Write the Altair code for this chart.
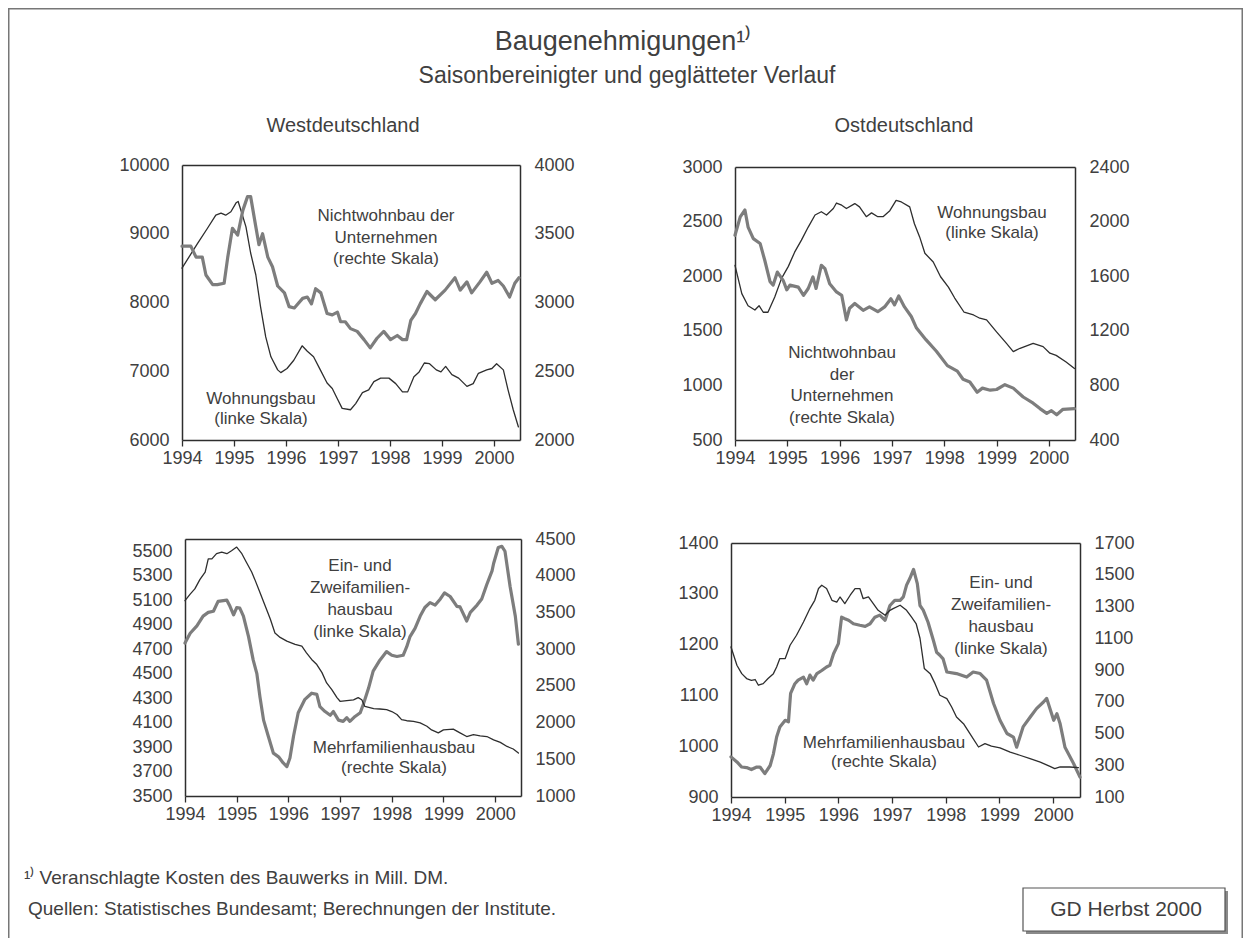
import altair as alt
import pandas as pd

# ---------------------------------------------------------------- data
YEARS = [1994, 1995, 1996, 1997, 1998, 1999, 2000]
X_DOMAIN = [1994, 2000.5]

# Westdeutschland, oben: Wohnungsbau (linke Skala) / Nichtwohnbau der Unternehmen (rechte Skala)
WEST_WOHNUNGSBAU = [
    (1994.00, 8500), (1994.30, 8860), (1994.49, 9080), (1994.65, 9270), (1994.75, 9300),
    (1994.84, 9270), (1994.94, 9320), (1995.04, 9450), (1995.08, 9470), (1995.13, 9350),
    (1995.23, 9100), (1995.32, 8720), (1995.42, 8400), (1995.51, 7940), (1995.61, 7500),
    (1995.71, 7210), (1995.84, 7020), (1995.90, 6980), (1996.02, 7040), (1996.15, 7160),
    (1996.31, 7370), (1996.41, 7290), (1996.53, 7210), (1996.66, 7020), (1996.79, 6830),
    (1996.89, 6750), (1996.98, 6610), (1997.08, 6460), (1997.24, 6440), (1997.34, 6530),
    (1997.47, 6690), (1997.59, 6730), (1997.69, 6850), (1997.82, 6900), (1997.98, 6900),
    (1998.11, 6820), (1998.24, 6700), (1998.34, 6700), (1998.46, 6920), (1998.56, 6990),
    (1998.66, 7120), (1998.76, 7110), (1998.89, 7020), (1998.98, 6990), (1999.07, 7070),
    (1999.19, 6950), (1999.32, 6900), (1999.48, 6780), (1999.60, 6820), (1999.70, 6970),
    (1999.86, 7020), (1999.96, 7040), (2000.05, 7110), (2000.18, 7020), (2000.27, 6730),
    (2000.37, 6440), (2000.47, 6190),
]
WEST_NICHTWOHNBAU = [
    (1994.00, 3410), (1994.17, 3410), (1994.27, 3330), (1994.39, 3330), (1994.46, 3200),
    (1994.59, 3130), (1994.68, 3130), (1994.81, 3140), (1994.88, 3330), (1994.97, 3540),
    (1995.07, 3490), (1995.17, 3670), (1995.26, 3770), (1995.32, 3770), (1995.42, 3550),
    (1995.48, 3420), (1995.55, 3500), (1995.65, 3330), (1995.74, 3260), (1995.84, 3120),
    (1995.97, 3070), (1996.06, 2970), (1996.16, 2960), (1996.32, 3030), (1996.41, 3040),
    (1996.49, 2990), (1996.57, 3100), (1996.67, 3070), (1996.79, 2920), (1996.89, 2910),
    (1996.99, 2930), (1997.05, 2860), (1997.14, 2860), (1997.24, 2810), (1997.37, 2790),
    (1997.50, 2730), (1997.62, 2670), (1997.75, 2740), (1997.88, 2790), (1998.01, 2730),
    (1998.14, 2760), (1998.24, 2730), (1998.32, 2730), (1998.40, 2870), (1998.49, 2920),
    (1998.58, 2990), (1998.71, 3080), (1998.87, 3020), (1999.06, 3090), (1999.25, 3180),
    (1999.35, 3090), (1999.48, 3150), (1999.57, 3070), (1999.73, 3150), (1999.86, 3220),
    (1999.96, 3140), (2000.08, 3160), (2000.18, 3120), (2000.30, 3040), (2000.40, 3140),
    (2000.48, 3180),
]

# Ostdeutschland, oben
OST_WOHNUNGSBAU = [
    (1994.00, 2100), (1994.13, 1840), (1994.25, 1730), (1994.38, 1690), (1994.46, 1730),
    (1994.54, 1670), (1994.63, 1670), (1994.76, 1810), (1994.89, 1980), (1995.02, 2090),
    (1995.14, 2220), (1995.27, 2330), (1995.40, 2450), (1995.53, 2560), (1995.65, 2590),
    (1995.75, 2560), (1995.88, 2620), (1995.94, 2670), (1996.04, 2650), (1996.13, 2620),
    (1996.29, 2665), (1996.38, 2635), (1996.51, 2545), (1996.61, 2580), (1996.73, 2545),
    (1996.83, 2545), (1996.96, 2600), (1997.08, 2695), (1997.18, 2680), (1997.34, 2635),
    (1997.43, 2480), (1997.53, 2360), (1997.63, 2210), (1997.79, 2130), (1997.93, 1995),
    (1998.08, 1900), (1998.20, 1800), (1998.38, 1670), (1998.56, 1645), (1998.68, 1615),
    (1998.81, 1600), (1999.00, 1490), (1999.19, 1385), (1999.32, 1310), (1999.45, 1340),
    (1999.70, 1385), (1999.89, 1355), (2000.02, 1295), (2000.14, 1275), (2000.33, 1215),
    (2000.49, 1155),
]
OST_NICHTWOHNBAU = [
    (1994.00, 1900), (1994.10, 2035), (1994.19, 2085), (1994.25, 1960), (1994.35, 1875),
    (1994.48, 1840), (1994.57, 1715), (1994.67, 1560), (1994.73, 1535), (1994.81, 1630),
    (1994.92, 1570), (1994.99, 1500), (1995.05, 1535), (1995.21, 1520), (1995.31, 1460),
    (1995.40, 1510), (1995.49, 1595), (1995.55, 1510), (1995.65, 1680), (1995.72, 1655),
    (1995.81, 1545), (1995.94, 1485), (1996.04, 1460), (1996.13, 1280), (1996.19, 1365),
    (1996.29, 1400), (1996.45, 1350), (1996.57, 1375), (1996.73, 1340), (1996.86, 1375),
    (1996.98, 1435), (1997.05, 1390), (1997.13, 1455), (1997.24, 1375), (1997.37, 1305),
    (1997.47, 1220), (1997.65, 1135), (1997.85, 1050), (1998.06, 945), (1998.25, 905),
    (1998.36, 845), (1998.49, 825), (1998.63, 750), (1998.73, 780), (1998.88, 765),
    (1999.00, 770), (1999.16, 805), (1999.32, 780), (1999.51, 715), (1999.70, 670),
    (1999.83, 630), (1999.96, 595), (2000.05, 615), (2000.15, 585), (2000.27, 625),
    (2000.49, 630),
]

# Westdeutschland, unten: Ein- und Zweifamilienhausbau (linke Skala) / Mehrfamilienhausbau (rechte Skala)
WEST_EZFH = [
    (1994.00, 4750), (1994.10, 4830), (1994.23, 4890), (1994.35, 4970), (1994.45, 5000),
    (1994.55, 5010), (1994.64, 5090), (1994.81, 5100), (1994.87, 5050), (1994.94, 4980),
    (1995.00, 5040), (1995.06, 5035), (1995.13, 4970), (1995.23, 4800), (1995.32, 4610),
    (1995.39, 4500), (1995.45, 4310), (1995.52, 4120), (1995.61, 3990), (1995.71, 3850),
    (1995.81, 3820), (1995.90, 3770), (1995.97, 3740), (1996.03, 3810), (1996.10, 3990),
    (1996.19, 4180), (1996.32, 4290), (1996.45, 4340), (1996.55, 4330), (1996.61, 4230),
    (1996.71, 4190), (1996.81, 4160), (1996.87, 4190), (1996.97, 4120), (1997.06, 4110),
    (1997.13, 4140), (1997.19, 4110), (1997.29, 4150), (1997.39, 4180), (1997.45, 4250),
    (1997.55, 4380), (1997.64, 4520), (1997.77, 4610), (1997.90, 4680), (1998.00, 4650),
    (1998.10, 4640), (1998.22, 4650), (1998.29, 4720), (1998.35, 4800), (1998.45, 4870),
    (1998.55, 4970), (1998.64, 5040), (1998.74, 5080), (1998.84, 5060), (1998.94, 5110),
    (1999.02, 5160), (1999.13, 5130), (1999.26, 5050), (1999.32, 5045), (1999.45, 4930),
    (1999.52, 5000), (1999.65, 5060), (1999.74, 5110), (1999.84, 5230), (1999.94, 5340),
    (1999.97, 5400), (2000.06, 5530), (2000.13, 5540), (2000.19, 5500), (2000.29, 5210),
    (2000.39, 4970), (2000.45, 4740),
]
WEST_MFH = [
    (1994.00, 3660), (1994.10, 3750), (1994.19, 3820), (1994.29, 3950), (1994.39, 4050),
    (1994.45, 4230), (1994.52, 4230), (1994.61, 4300), (1994.71, 4320), (1994.81, 4300),
    (1994.90, 4340), (1995.00, 4390), (1995.10, 4300), (1995.19, 4180), (1995.29, 4050),
    (1995.35, 3950), (1995.45, 3770), (1995.55, 3590), (1995.65, 3410), (1995.74, 3220),
    (1995.84, 3160), (1995.97, 3110), (1996.13, 3065), (1996.26, 3040), (1996.35, 2950),
    (1996.45, 2860), (1996.55, 2790), (1996.65, 2680), (1996.74, 2540), (1996.84, 2450),
    (1996.94, 2340), (1997.00, 2290), (1997.13, 2300), (1997.26, 2310), (1997.35, 2340),
    (1997.42, 2310), (1997.48, 2220), (1997.65, 2190), (1997.77, 2185), (1997.90, 2175),
    (1998.00, 2150), (1998.10, 2110), (1998.19, 2040), (1998.29, 2025), (1998.42, 2015),
    (1998.55, 1995), (1998.68, 1950), (1998.77, 1900), (1998.90, 1860), (1999.00, 1900),
    (1999.19, 1910), (1999.32, 1860), (1999.45, 1810), (1999.58, 1835), (1999.71, 1820),
    (1999.84, 1810), (1999.97, 1765), (2000.10, 1730), (2000.23, 1675), (2000.35, 1640),
    (2000.45, 1585),
]

# Ostdeutschland, unten
OST_EZFH = [
    (1994.00, 979), (1994.11, 969), (1994.20, 959), (1994.29, 958), (1994.38, 954),
    (1994.48, 959), (1994.54, 959), (1994.63, 946), (1994.73, 962), (1994.79, 985),
    (1994.85, 1018), (1994.91, 1038), (1995.01, 1051), (1995.07, 1048), (1995.11, 1104),
    (1995.19, 1123), (1995.25, 1130), (1995.35, 1136), (1995.41, 1123), (1995.47, 1140),
    (1995.53, 1130), (1995.60, 1143), (1995.69, 1149), (1995.78, 1156), (1995.84, 1159),
    (1995.91, 1182), (1996.00, 1202), (1996.06, 1254), (1996.12, 1251), (1996.19, 1248),
    (1996.28, 1241), (1996.40, 1238), (1996.50, 1236), (1996.59, 1241), (1996.68, 1254),
    (1996.77, 1258), (1996.87, 1248), (1996.96, 1277), (1997.05, 1287), (1997.15, 1287),
    (1997.21, 1294), (1997.27, 1317), (1997.33, 1330), (1997.40, 1348), (1997.47, 1320),
    (1997.52, 1277), (1997.58, 1268), (1997.67, 1244), (1997.77, 1208), (1997.83, 1185),
    (1997.89, 1179), (1997.95, 1172), (1998.02, 1146), (1998.20, 1143), (1998.39, 1136),
    (1998.51, 1146), (1998.64, 1143), (1998.76, 1130), (1998.89, 1084), (1999.01, 1051),
    (1999.14, 1025), (1999.26, 1018), (1999.32, 998), (1999.44, 1038), (1999.57, 1057),
    (1999.69, 1074), (1999.82, 1087), (1999.88, 1094), (2000.01, 1051), (2000.07, 1064),
    (2000.13, 1044), (2000.22, 998), (2000.38, 966), (2000.50, 939),
]
OST_MFH = [
    (1994.00, 1045), (1994.11, 930), (1994.20, 877), (1994.29, 846), (1994.38, 835),
    (1994.45, 840), (1994.51, 804), (1994.60, 814), (1994.69, 846), (1994.79, 877),
    (1994.85, 919), (1994.91, 972), (1995.01, 972), (1995.10, 1056), (1995.22, 1119),
    (1995.35, 1202), (1995.47, 1287), (1995.56, 1339), (1995.63, 1413), (1995.69, 1434),
    (1995.78, 1413), (1995.88, 1339), (1995.97, 1328), (1996.03, 1360), (1996.12, 1318),
    (1996.22, 1371), (1996.31, 1413), (1996.40, 1413), (1996.46, 1350), (1996.56, 1360),
    (1996.65, 1318), (1996.74, 1276), (1996.87, 1245), (1996.96, 1276), (1997.02, 1287),
    (1997.15, 1308), (1997.27, 1276), (1997.36, 1234), (1997.45, 1190), (1997.52, 1100),
    (1997.60, 910), (1997.71, 877), (1997.80, 814), (1997.89, 741), (1998.02, 720),
    (1998.11, 667), (1998.20, 604), (1998.33, 562), (1998.45, 499), (1998.61, 415),
    (1998.73, 436), (1998.85, 420), (1999.01, 410), (1999.20, 383), (1999.38, 363),
    (1999.57, 342), (1999.76, 320), (1999.94, 293), (2000.03, 279), (2000.13, 289),
    (2000.31, 289), (2000.47, 285),
]

# axis tick values
WEST_OBEN_LINKS = [6000, 7000, 8000, 9000, 10000]
WEST_OBEN_RECHTS = [2000, 2500, 3000, 3500, 4000]
OST_OBEN_LINKS = [500, 1000, 1500, 2000, 2500, 3000]
OST_OBEN_RECHTS = [400, 800, 1200, 1600, 2000, 2400]
WEST_UNTEN_LINKS = [3500, 3700, 3900, 4100, 4300, 4500, 4700, 4900, 5100, 5300, 5500]
WEST_UNTEN_RECHTS = [1000, 1500, 2000, 2500, 3000, 3500, 4000, 4500]
OST_UNTEN_LINKS = [900, 1000, 1100, 1200, 1300, 1400]
OST_UNTEN_RECHTS = [100, 300, 500, 700, 900, 1100, 1300, 1500, 1700]

# texts
TITEL = "Baugenehmigungen\u00b9\u207e"
UNTERTITEL = "Saisonbereinigter und geglätteter Verlauf"
KOPF_WEST = "Westdeutschland"
KOPF_OST = "Ostdeutschland"
FUSSNOTE = "\u00b9\u207e Veranschlagte Kosten des Bauwerks in Mill. DM."
QUELLE = "Quellen: Statistisches Bundesamt; Berechnungen der Institute."
STEMPEL = "GD Herbst 2000"
LBL_NW_WEST = ["Nichtwohnbau der", "Unternehmen", "(rechte Skala)"]
LBL_WB = ["Wohnungsbau", "(linke Skala)"]
LBL_NW_OST = ["Nichtwohnbau", "der", "Unternehmen", "(rechte Skala)"]
LBL_EZFH = ["Ein- und", "Zweifamilien-", "hausbau", "(linke Skala)"]
LBL_MFH = ["Mehrfamilienhausbau", "(rechte Skala)"]

# ---------------------------------------------------------------- style / layout
FONT = "Liberation Sans"
TXT = "#404040"
DARK = "#2e2e2e"
GREY = "#7d7d7d"
W, H = 1235, 930

THIN = dict(color=DARK, strokeWidth=1.3)
THICK = dict(color=GREY, strokeWidth=3.2)

PANELS = {
    "wo": dict(x0=174, x1=512, yt=157, yb=432, ldom=[6000, 10000], rdom=[2000, 4000]),
    "oo": dict(x0=727, x1=1067, yt=159, yb=432, ldom=[500, 3000], rdom=[400, 2400]),
    "wu": dict(x0=177, x1=513, yt=531, yb=788, ldom=[3500, 5600], rdom=[1000, 4500]),
    "ou": dict(x0=723, x1=1072, yt=535, yb=789, ldom=[900, 1400], rdom=[100, 1700]),
}

AX_COMMON = dict(title=None, grid=False, labelFont=FONT, labelFontSize=18, labelColor=TXT,
                 domainColor=DARK, domainWidth=1.5, labelFlush=False, labelOverlap=False)


def series_line(series, p, side, style, ticks):
    df = pd.DataFrame(series, columns=["Jahr", "Wert"])
    if side == "left":
        xax = alt.Axis(orient="bottom", offset=p["yb"] - H, values=YEARS, format="d",
                       tickSize=6, tickColor=DARK, tickWidth=1.3, labelPadding=3, **AX_COMMON)
        yax = alt.Axis(orient="left", offset=-p["x0"], values=ticks, format="d",
                       ticks=False, labelPadding=13, **AX_COMMON)
        dom = p["ldom"]
    else:
        xax = alt.Axis(orient="top", offset=-p["yt"], labels=False, ticks=False,
                       title=None, grid=False, domainColor=DARK, domainWidth=1.5)
        yax = alt.Axis(orient="right", offset=p["x1"] - W, values=ticks, format="d",
                       ticks=False, labelPadding=14, labelAlign="left", **AX_COMMON)
        dom = p["rdom"]
    return alt.Chart(df).mark_line(strokeJoin="round", strokeCap="round", **style).encode(
        x=alt.X("Jahr:Q", axis=xax,
                scale=alt.Scale(domain=X_DOMAIN, range=[p["x0"], p["x1"]], nice=False, zero=False)),
        y=alt.Y("Wert:Q", axis=yax,
                scale=alt.Scale(domain=dom, range=[p["yb"], p["yt"]], nice=False, zero=False)),
    )


ONE = pd.DataFrame({"k": [0]})


def label(text, x, y, size, align="center", lh=None, color=TXT):
    kw = dict(align=align, baseline="alphabetic", font=FONT, fontSize=size, color=color)
    if lh is not None:
        kw["lineHeight"] = lh
    return alt.Chart(ONE).mark_text(**kw).encode(
        x=alt.value(x), y=alt.value(y), text=alt.value(text))


layers = []
# panels
layers += [series_line(WEST_WOHNUNGSBAU, PANELS["wo"], "left", THIN, WEST_OBEN_LINKS),
           series_line(WEST_NICHTWOHNBAU, PANELS["wo"], "right", THICK, WEST_OBEN_RECHTS)]
layers += [series_line(OST_WOHNUNGSBAU, PANELS["oo"], "left", THIN, OST_OBEN_LINKS),
           series_line(OST_NICHTWOHNBAU, PANELS["oo"], "right", THICK, OST_OBEN_RECHTS)]
layers += [series_line(WEST_EZFH, PANELS["wu"], "left", THICK, WEST_UNTEN_LINKS),
           series_line(WEST_MFH, PANELS["wu"], "right", THIN, WEST_UNTEN_RECHTS)]
layers += [series_line(OST_EZFH, PANELS["ou"], "left", THICK, OST_UNTEN_LINKS),
           series_line(OST_MFH, PANELS["ou"], "right", THIN, OST_UNTEN_RECHTS)]

# series labels
layers += [
    label(LBL_NW_WEST, 378, 213, 17, lh=21.5),
    label(LBL_WB, 253, 396, 17, lh=20),
    label(LBL_WB, 984, 210, 17, lh=20),
    label(LBL_NW_OST, 834, 350, 17, lh=21.5),
    label(LBL_EZFH, 352, 563, 17, lh=22),
    label(LBL_MFH, 386, 745, 17, lh=20),
    label(LBL_EZFH, 993, 580, 17, lh=22),
    label(LBL_MFH, 876, 740, 17, lh=19),
]

# titles
layers += [
    label(TITEL, 615, 42, 27),
    label(UNTERTITEL, 619, 75, 23),
    label(KOPF_WEST, 335, 124, 20),
    label(KOPF_OST, 896, 124, 20),
    label(FUSSNOTE, 16, 876, 19, align="left"),
    label(QUELLE, 20, 907, 19, align="left"),
]

# stamp box with shadow
layers += [
    alt.Chart(ONE).mark_rect(fill="#8a8a8a").encode(
        x=alt.value(1018), x2=alt.value(1220), y=alt.value(883), y2=alt.value(926)),
    alt.Chart(ONE).mark_rect(fill="white", stroke="#555555", strokeWidth=1.2).encode(
        x=alt.value(1015), x2=alt.value(1217), y=alt.value(880), y2=alt.value(923)),
    label(STEMPEL, 1118, 908, 21),
]

# outer frame (left, top, right)
layers += [
    alt.Chart(ONE).mark_rule(color="#777777", strokeWidth=1.5).encode(
        x=alt.value(0.75), y=alt.value(0), y2=alt.value(H)),
    alt.Chart(ONE).mark_rule(color="#777777", strokeWidth=1.5).encode(
        x=alt.value(0), x2=alt.value(W), y=alt.value(0.75)),
    alt.Chart(ONE).mark_rule(color="#777777", strokeWidth=1.5).encode(
        x=alt.value(W - 0.75), y=alt.value(0), y2=alt.value(H)),
]

chart = (
    alt.layer(*layers)
    .resolve_scale(x="independent", y="independent")
    .resolve_axis(x="independent", y="independent")
    .properties(width=W, height=H, padding=0,
                autosize=alt.AutoSizeParams(type="none"), background="white")
    .configure_view(strokeWidth=0)
)

chart.save("out.html", embed_options={"renderer": "svg", "actions": False})
